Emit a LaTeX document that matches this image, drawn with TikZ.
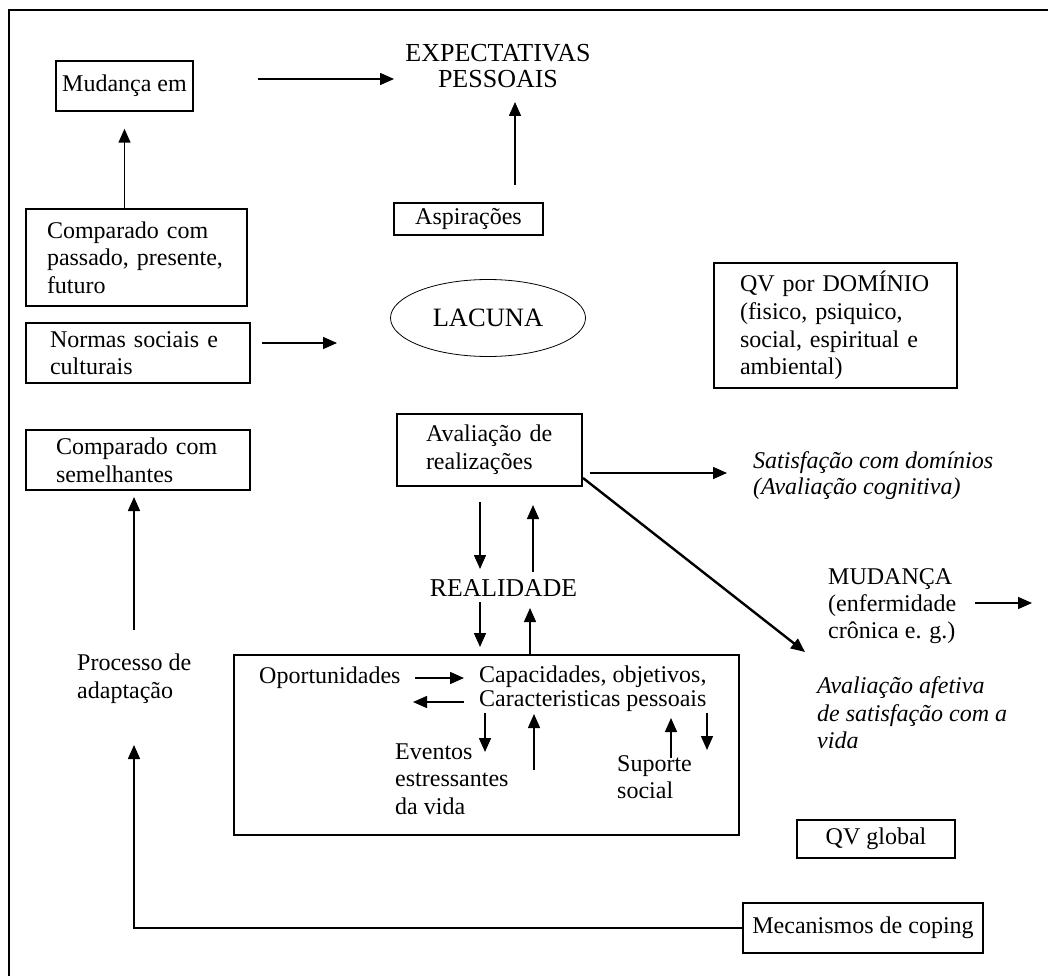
\documentclass[tikz,border=0pt]{standalone}
\usepackage{fontspec}
\setmainfont{Liberation Serif}
\usetikzlibrary{arrows.meta,shapes.geometric}
\begin{document}
\begin{tikzpicture}[x=1pt,y=-1pt,
  every node/.style={font=\fontsize{24}{27.6}\selectfont, inner sep=0pt, text=black},
  box/.style={draw, line width=1.5pt},
  lbox/.style={box, align=left},
  big/.style={font=\fontsize{26}{26}\selectfont, align=center},
  note/.style={align=left, anchor=west},
  slant/.style={align=left, anchor=west},
  arr/.style={line width=1.5pt, -{Triangle[length=14pt,width=12pt]}},
]
\useasboundingbox (0,0) rectangle (1048,976);
\fill[white] (0,0) rectangle (1048,976);

% frame
\draw[line width=2pt] (9,976) -- (9,10) -- (1048,10);

% boxes of the left column
\node[box, minimum width=137pt, minimum height=50pt] (mud) at (124.5,86) {Mudança em};
\node[lbox, inner xsep=21pt, text width=179pt, minimum height=97pt] (cmp1) at (136.5,257.5)
  {Comparado com\\passado, presente,\\futuro};
\node[lbox, inner xsep=24pt, text width=176pt, minimum height=60pt] (norm) at (138,353)
  {Normas sociais e\\culturais};
\node[lbox, inner xsep=30pt, text width=164pt, minimum height=60pt] (sem) at (138,460)
  {Comparado com\\semelhantes};
\node[note] (proc) at (77,679) {Processo de\\adaptação};

% centre column
\node[big] (exp) at (498,66) {EXPECTATIVAS\\PESSOAIS};
\node[box, minimum width=149pt, minimum height=32pt] (asp) at (468.5,219) {Aspirações};
\node[ellipse, draw, line width=0.8pt, minimum width=195pt, minimum height=77pt,
  font=\fontsize{26.5}{28}\selectfont] (lac) at (488,318) {LACUNA};
\node[lbox, inner xsep=29pt, text width=127pt, minimum height=72pt] (aval) at (489.5,450)
  {Avaliação de\\realizações};
\node[font=\fontsize{25.7}{28}\selectfont] (real) at (503.5,588) {REALIDADE};

% reality box and its contents
\node[box, minimum width=505pt, minimum height=180pt] (rbox) at (486.5,745) {};
\node[note] (opo) at (259,678) {Oportunidades};
\node[note, font=\fontsize{24}{24}\selectfont] (cap) at (479,689)
  {Capacidades, objetivos,\\Caracteristicas pessoais};
\node[note, font=\fontsize{24}{27.5}\selectfont] (evt) at (395,779)
  {Eventos\\estressantes\\da vida};
\node[note, font=\fontsize{24}{27}\selectfont] (sup) at (617,777) {Suporte\\social};

% right column
\node[lbox, inner xsep=26pt, text width=191pt, minimum height=125pt] (dom) at (835.5,325.5)
  {QV por DOMÍNIO\\(fisico, psiquico,\\social, espiritual e\\ambiental)};
\node[slant, font=\fontsize{24}{26}\selectfont\itshape] (sat) at (753,476)
  {Satisfação com domínios\\(Avaliação cognitiva)};
\node[note, font=\fontsize{24}{27}\selectfont] (mudc) at (828,606)
  {MUDANÇA\\(enfermidade\\crônica e. g.)};
\node[slant, font=\fontsize{24}{27.5}\selectfont\itshape] (afe) at (817,713)
  {Avaliação afetiva\\de satisfação com a\\vida};
\node[box, minimum width=158pt, minimum height=38pt] (glob) at (876,839) {QV global};
\node[box, minimum width=240pt, minimum height=50pt] (cop) at (863,928) {Mecanismos de coping};

% free ends of the connectors
\coordinate (m1) at (258,79);   \coordinate (m2) at (394,79);
\coordinate (s1) at (515,185);  \coordinate (s2) at (515,102);
\coordinate (n1) at (262,343);  \coordinate (n2) at (337,343);
\coordinate (v1) at (590,473);  \coordinate (v2) at (727,473);
\coordinate (d1) at (583,478);  \coordinate (d2) at (805,652);
\coordinate (r1) at (480,502);  \coordinate (r2) at (480,569);
\coordinate (r3) at (533,572);  \coordinate (r4) at (533,505);
\coordinate (r5) at (480,602);  \coordinate (r6) at (480,647);
\coordinate (r7) at (530,655);  \coordinate (r8) at (530,608);
\coordinate (o1) at (415,678);  \coordinate (o2) at (464,678);
\coordinate (o3) at (464,702);  \coordinate (o4) at (413,702);
\coordinate (e1) at (485,713);  \coordinate (e2) at (485,752);
\coordinate (e3) at (534,770);  \coordinate (e4) at (534,714);
\coordinate (p1) at (671,758);  \coordinate (p2) at (671,718);
\coordinate (p3) at (707,713);  \coordinate (p4) at (707,750);
\coordinate (c1) at (975,603);  \coordinate (c2) at (1032,603);
\coordinate (a1) at (134,630);  \coordinate (a2) at (134,497);
\coordinate (k1) at (134,745);

% connectors
\draw[arr] (m1) -- (m2);
\draw[arr] (mud.south |- cmp1.north) -- ([yshift=-17pt]mud.south);
\draw[arr] (s1) -- (s2);
\draw[arr] (n1) -- (n2);
\draw[arr] (v1) -- (v2);
\draw[arr, line width=2.4pt] (d1) -- (d2);
\draw[arr] (r1) -- (r2);
\draw[arr] (r3) -- (r4);
\draw[arr] (r5) -- (r6);
\draw[arr] (r7) -- (r8);
\draw[arr] (o1) -- (o2);
\draw[arr] (o3) -- (o4);
\draw[arr] (e1) -- (e2);
\draw[arr] (e3) -- (e4);
\draw[arr] (p1) -- (p2);
\draw[arr] (p3) -- (p4);
\draw[arr] (c1) -- (c2);
\draw[arr] (a1) -- (a2);
\draw[arr] (cop.west) -| (k1);
\end{tikzpicture}
\end{document}
